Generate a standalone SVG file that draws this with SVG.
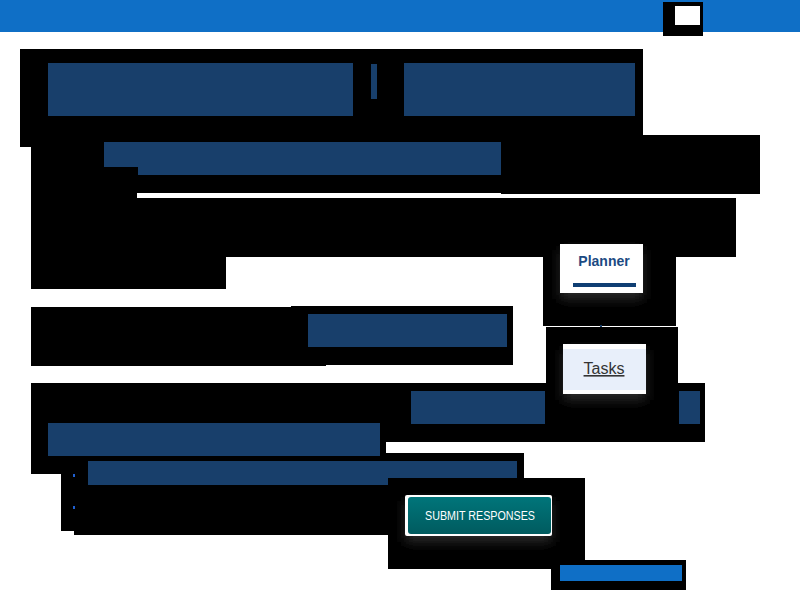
<svg xmlns="http://www.w3.org/2000/svg" width="800" height="600" viewBox="0 0 800 600">
<style>
.k{fill:#000}
.b{fill:#183f6b}
.hb{fill:#0f6fc6}
.t{font-family:"Liberation Sans",Arial,sans-serif}
</style>
<defs>
<filter id="glow" x="-50%" y="-50%" width="200%" height="200%"><feGaussianBlur stdDeviation="6"/></filter>
<linearGradient id="teal" x1="0" y1="0" x2="0" y2="1"><stop offset="0" stop-color="#00757a"/><stop offset="1" stop-color="#005b5f"/></linearGradient>
</defs>
<rect width="800" height="600" fill="#fff"/>
<g id="header">
<rect class="hb" x="0" y="0" width="800" height="32"/>
<rect class="k" x="663" y="2" width="40" height="34"/>
<rect x="675" y="6" width="25" height="19" fill="#fff"/>
</g>
<g id="masks">
<rect class="k" x="20" y="49" width="623" height="98"/>
<rect class="k" x="31" y="147" width="470" height="46"/>
<rect class="k" x="31" y="193" width="106" height="5"/>
<rect class="k" x="501" y="135" width="259" height="59"/>
<rect class="k" x="31" y="198" width="705" height="59"/>
<rect class="k" x="31" y="257" width="195" height="32"/>
<rect class="k" x="543" y="257" width="133" height="69"/>
<rect class="k" x="31" y="307" width="295" height="59"/>
<rect class="k" x="291" y="306" width="222" height="59"/>
<rect class="k" x="546" y="327" width="132" height="56"/>
<rect class="k" x="31" y="383" width="674" height="59"/>
<rect class="k" x="31" y="442" width="355" height="11"/>
<rect class="k" x="31" y="453" width="43" height="21"/>
<rect class="k" x="61" y="474" width="13" height="57"/>
<rect class="k" x="74" y="453" width="450" height="82"/>
<rect class="k" x="388" y="478" width="197" height="91"/>
<rect class="k" x="551" y="560" width="135" height="30"/>
</g>
<g id="bars">
<rect class="b" x="48" y="63" width="305" height="53"/>
<rect class="b" x="371" y="64" width="6" height="35"/>
<rect class="b" x="404" y="63" width="231" height="53"/>
<rect class="b" x="104" y="142" width="397" height="25"/>
<rect class="b" x="138" y="167" width="363" height="8"/>
<rect class="b" x="308" y="314" width="199" height="33"/>
<rect class="b" x="411" y="391" width="134" height="33"/>
<rect class="b" x="679" y="391" width="21" height="33"/>
<rect class="b" x="48" y="423" width="332" height="33"/>
<rect class="b" x="88" y="461" width="429" height="17"/>
<rect class="b" x="88" y="478" width="300" height="7"/>
<rect class="hb" x="560" y="565" width="122" height="16"/>
<rect x="73" y="474" width="2" height="3" fill="#1f5fd0"/>
<rect x="73" y="506" width="2" height="3" fill="#1f5fd0"/>
<rect x="600" y="325" width="2" height="2" fill="#183f6b"/>
</g>
<g id="planner">
<rect x="560" y="250" width="83" height="49" fill="#2a2a2a" filter="url(#glow)"/>
<rect x="560" y="244" width="83" height="49" fill="#fff"/>
<text class="t" x="604" y="266" font-size="14" font-weight="bold" fill="#1b4a82" text-anchor="middle">Planner</text>
<rect x="573" y="283" width="63" height="4" fill="#0f3e73"/>
</g>
<g id="tasks">
<rect x="563" y="350" width="83" height="50" fill="#2a2a2a" filter="url(#glow)"/>
<rect x="563" y="344" width="83" height="50" fill="#fff"/>
<rect x="563" y="349" width="83" height="41" fill="#e8effa"/>
<text class="t" x="604" y="374" font-size="16" fill="#333" text-anchor="middle" text-decoration="underline">Tasks</text>
</g>
<g id="submit">
<rect x="405" y="501" width="147" height="41" fill="#2a2a2a" filter="url(#glow)"/>
<rect x="405" y="495" width="147" height="41" rx="2" fill="#fff"/>
<rect x="408" y="497" width="143" height="37" rx="3" fill="url(#teal)"/>
<text class="t" x="480" y="520" font-size="12" fill="#fff" text-anchor="middle" textLength="110" lengthAdjust="spacingAndGlyphs">SUBMIT RESPONSES</text>
</g>
</svg>
